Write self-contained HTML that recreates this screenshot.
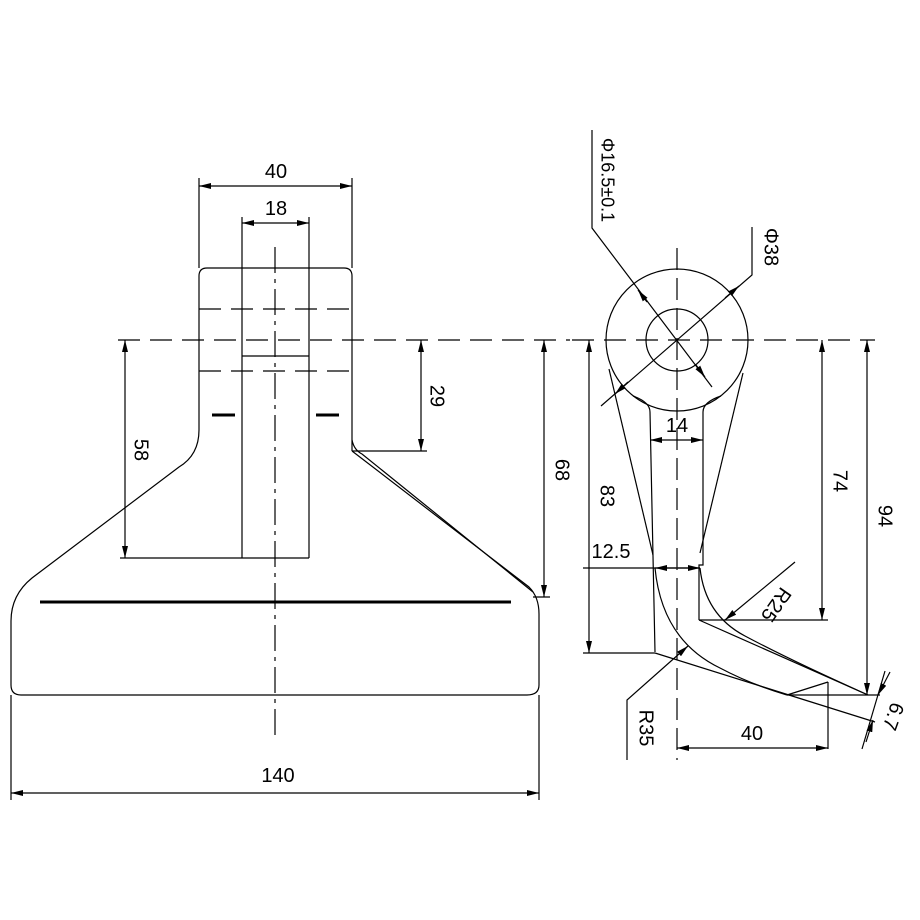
<!DOCTYPE html>
<html><head><meta charset="utf-8"><style>html,body{margin:0;padding:0;background:#fff}svg{display:block}</style></head><body>
<svg width="920" height="920" viewBox="0 0 920 920" xmlns="http://www.w3.org/2000/svg">
<defs>
<marker id="a" viewBox="0 0 12 6" refX="12" refY="3" markerWidth="12" markerHeight="6" markerUnits="userSpaceOnUse" orient="auto-start-reverse"><path d="M0,0 L12,3 L0,6 z" fill="#000"/></marker>
</defs>
<g fill="none" stroke="#000" stroke-width="1.2">
<!-- LEFT VIEW -->
<path d="M199,430 V276 Q199,268 207,268 H344 Q352,268 352,276 V451"/>
<path d="M199,430 Q199,455 179,467 L32,578 Q11,595 11,621 V685 Q11,695 21,695 H527 Q539,695 539,685 V614 Q539,597 529,587 L352,451"/>
<path d="M352,440 Q354,450 362,454 L533,592"/>
<g stroke-dasharray="22,10">
<line x1="199" y1="309" x2="352" y2="309"/>
<line x1="199" y1="371" x2="352" y2="371"/>
<line x1="118" y1="340" x2="570" y2="340"/>
</g>
<line x1="242" y1="217" x2="242" y2="558"/>
<line x1="309" y1="217" x2="309" y2="558"/>
<line x1="242" y1="356" x2="309" y2="356"/>
<line x1="120" y1="558" x2="309" y2="558"/>
<line x1="352" y1="451" x2="427" y2="451"/>
<line x1="199" y1="178" x2="199" y2="268"/>
<line x1="352" y1="178" x2="352" y2="268"/>
<line x1="11" y1="695" x2="11" y2="800"/>
<line x1="539" y1="695" x2="539" y2="800"/>
<line x1="533" y1="597" x2="550" y2="597"/>
<line x1="275" y1="247" x2="275" y2="735" stroke-dasharray="26,6,4,6"/>
<line x1="40" y1="602" x2="511" y2="602" stroke-width="3"/>
<line x1="212" y1="415" x2="235" y2="415" stroke-width="3"/>
<line x1="316" y1="415" x2="339" y2="415" stroke-width="3"/>
<line x1="199" y1="186" x2="352" y2="186" marker-start="url(#a)" marker-end="url(#a)"/>
<line x1="242" y1="223" x2="309" y2="223" marker-start="url(#a)" marker-end="url(#a)"/>
<line x1="125" y1="340" x2="125" y2="558" marker-start="url(#a)" marker-end="url(#a)"/>
<line x1="421" y1="340" x2="421" y2="451" marker-start="url(#a)" marker-end="url(#a)"/>
<line x1="544" y1="340" x2="544" y2="597" marker-start="url(#a)" marker-end="url(#a)"/>
<line x1="11" y1="793" x2="539" y2="793" marker-start="url(#a)" marker-end="url(#a)"/>
<!-- RIGHT VIEW -->
<circle cx="677" cy="340" r="71"/>
<circle cx="677" cy="340" r="31"/>
<line x1="572" y1="340" x2="875" y2="340" stroke-dasharray="22,10"/>
<line x1="677" y1="248" x2="677" y2="760" stroke-dasharray="22,8"/>
<path d="M633,396 Q650,402 650,412 L655,652"/>
<path d="M721,396 Q703,402 703,412 V565 H699 V620"/>
<line x1="609" y1="369" x2="653" y2="555"/>
<line x1="743" y1="373" x2="700" y2="553"/>
<line x1="655" y1="653" x2="875" y2="722"/>
<line x1="699" y1="620" x2="868" y2="695"/>
<path d="M655,568 Q662,640 720,668 Q750,684 787,695"/>
<path d="M700,568 Q705,615 745,636 Q790,660 868,695"/>
<line x1="787" y1="695" x2="828" y2="682"/>
<line x1="787" y1="695" x2="880" y2="695"/>
<line x1="828" y1="682" x2="828" y2="749"/>
<line x1="583" y1="653" x2="655" y2="653"/>
<line x1="699" y1="620" x2="828" y2="620"/>
<path d="M592,130 V228 L712,387" />
<line x1="647" y1="302" x2="638" y2="290" marker-end="url(#a)"/>
<line x1="696" y1="365" x2="705" y2="377" marker-end="url(#a)"/>
<path d="M752,227 V275 L601,406"/>
<line x1="725" y1="298" x2="739" y2="286" marker-end="url(#a)"/>
<line x1="628" y1="382" x2="615" y2="394" marker-end="url(#a)"/>
<line x1="650" y1="440" x2="703" y2="440" marker-start="url(#a)" marker-end="url(#a)"/>
<line x1="583" y1="568" x2="700" y2="568"/>
<line x1="676" y1="568" x2="655" y2="568" marker-end="url(#a)"/>
<line x1="678" y1="568" x2="700" y2="568" marker-end="url(#a)"/>
<line x1="589" y1="340" x2="589" y2="653" marker-start="url(#a)" marker-end="url(#a)"/>
<line x1="822" y1="340" x2="822" y2="620" marker-start="url(#a)" marker-end="url(#a)"/>
<line x1="867" y1="340" x2="867" y2="695" marker-start="url(#a)" marker-end="url(#a)"/>
<line x1="677" y1="748" x2="828" y2="748" marker-start="url(#a)" marker-end="url(#a)"/>
<line x1="885" y1="671" x2="862" y2="749"/>
<line x1="890" y1="672" x2="878" y2="695" marker-end="url(#a)"/>
<line x1="866" y1="742" x2="873" y2="720" marker-end="url(#a)"/>
<line x1="795" y1="562" x2="725" y2="620" marker-end="url(#a)"/>
<path d="M627,760 V700 L688,646" marker-end="url(#a)"/>
</g>
<g font-family="Liberation Sans, sans-serif" font-size="20" fill="#000" text-anchor="middle">
<text x="276" y="178">40</text>
<text x="276" y="215">18</text>
<text x="140" y="450" transform="rotate(90 140 450)" dominant-baseline="middle">58</text>
<text x="436" y="396" transform="rotate(90 436 396)" dominant-baseline="middle">29</text>
<text x="561" y="470" transform="rotate(90 561 470)" dominant-baseline="middle">68</text>
<text x="278" y="782">140</text>
<text x="606" y="180" transform="rotate(90 606 180)" dominant-baseline="middle" font-size="18">Φ16.5±0.1</text>
<text x="770" y="247" transform="rotate(90 770 247)" dominant-baseline="middle">Φ38</text>
<text x="677" y="432">14</text>
<text x="611" y="558">12.5</text>
<text x="606" y="496" transform="rotate(90 606 496)" dominant-baseline="middle">83</text>
<text x="839" y="481" transform="rotate(90 839 481)" dominant-baseline="middle">74</text>
<text x="884" y="516" transform="rotate(90 884 516)" dominant-baseline="middle">94</text>
<text x="775" y="604" transform="rotate(125 775 604)" dominant-baseline="middle">R25</text>
<text x="645" y="728" transform="rotate(90 645 728)" dominant-baseline="middle">R35</text>
<text x="752" y="740">40</text>
<text x="892" y="716" transform="rotate(110 892 716)" dominant-baseline="middle">6.7</text>
</g>
</svg>
</body></html>
